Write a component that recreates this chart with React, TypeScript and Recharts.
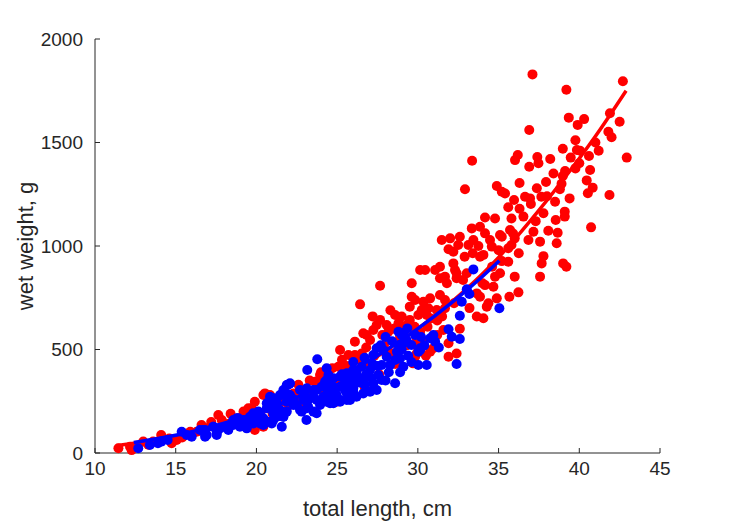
import { ScatterChart, Scatter, XAxis, YAxis } from 'recharts';

// red group: total length (cm) and wet weight (g)
const redLength = [
  37.1, 42.7, 39.2, 41.9, 42.5, 39.35, 39.9, 40.3, 36.9, 41.8, 42.0, 39.76, 38.98, 39.85, 40.05, 41.2, 42.94, 37.4, 36.9, 38.2,
  39.47, 40.6, 37.47, 39.76, 40.67, 39.12, 38.98, 40.46, 37.94, 38.9, 36.3, 38.8, 40.83, 37.37, 40.53, 41.87, 36.64, 36.95, 37.65, 38.5,
  37.0, 37.78, 39.1, 39.1, 38.54, 36.54, 40.73, 38.08, 38.66, 37.16, 36.85, 37.57, 38.6,
  33.36, 36.19, 36.02, 32.92, 34.89, 35.2, 35.4, 35.96, 35.6, 34.16, 34.78, 35.8, 33.34, 33.85, 34.16, 35.09, 35.2, 35.71, 36.0,
  31.48, 32.6, 33.44, 34.47, 34.58, 31.9, 32.2, 33.13, 33.75, 35.6, 35.8, 32.9, 33.85, 34.06, 32.2, 31.37, 35.2, 35.6, 36.25, 37.78,
  37.67, 39.0, 39.2, 37.57, 36.0, 34.78, 35.09, 32.4, 31.68, 34.16, 34.68, 33.65, 33.85, 36.23, 35.67, 34.37, 34.27,
  27.66, 26.42, 29.62, 30.14, 32.0, 32.5, 33.4, 30.45, 31.07, 31.37, 31.8, 32.3, 32.4, 32.8, 33.03, 29.62, 29.83, 30.34, 30.76, 31.37,
  31.68, 29.5, 30.24, 30.65, 31.17, 31.68, 32.24, 28.59, 29.0, 30.03, 30.55, 34.89, 33.65, 34.06, 27.66, 27.24, 26.62, 26.1, 25.18, 25.7,
  29.3, 29.5, 31.58, 31.9, 30.34, 30.76, 30.96, 29.83, 31.9, 32.4,
  27.45, 28.07, 28.17, 28.8, 29.1, 26.83, 27.04, 26.1, 26.52, 25.07, 25.38, 23.94, 23.63, 23.94, 20.53, 20.84, 19.9, 19.7, 22.3, 22.8,
  29.7, 29.93, 29.93, 30.14, 24.97, 24.77, 20.43, 20.12, 26.62,
  11.45, 12.17, 12.27, 12.99, 13.6, 14.1, 14.75, 15.06, 15.9, 16.3, 16.6, 17.64, 17.85, 18.57, 18.88, 19.5, 20.43, 19.9, 20.33, 21.77,
  22.0, 22.6, 23.2, 24.2, 25.0, 25.6, 26.2, 26.9, 27.3, 27.9, 28.4, 28.9, 29.3, 30.6, 31.2, 32.6, 33.2, 34.0, 34.6, 35.0,
  35.9, 36.3, 37.3, 38.0, 38.4, 39.4, 40.0, 41.0, 16.9, 18.2, 21.2, 13.3, 15.4,
  21.5, 22.6, 23.3, 24.0, 24.7, 25.6, 26.4, 27.8, 28.5, 29.8, 26.8, 25.3, 27.2, 28.3, 30.8, 31.5, 23.0, 24.3, 26.7, 27.6,
  28.6, 29.9, 30.5, 31.2, 17.2, 18.4, 19.2, 21.0, 14.6, 16.0, 12.6,
];
const redWeight = [
  1829, 1796, 1755, 1641, 1600, 1620, 1585, 1613, 1560, 1552, 1525, 1511, 1470, 1464, 1460, 1460, 1427, 1430, 1383, 1420,
  1427, 1435, 1400, 1375, 1367, 1362, 1338, 1317, 1309, 1301, 1304, 1274, 1282, 1279, 1255, 1246, 1238, 1230, 1238, 1214,
  1203, 1158, 1166, 1142, 1126, 1142, 1090, 1074, 1064, 1069, 1029, 1021, 1013,
  1412, 1440, 1415, 1274, 1290, 1262, 1254, 1222, 1187, 1138, 1133, 1133, 1085, 1093, 1061, 1053, 1045, 1077, 1037,
  1029, 1045, 1029, 1029, 997, 984, 972, 1005, 1000, 989, 1005, 948, 948, 957, 916, 900, 927, 924, 965, 951,
  916, 916, 900, 852, 852, 852, 868, 868, 852, 811, 803, 771, 755, 776, 755, 723, 707,
  808, 718, 820, 884, 1037, 1005, 965, 884, 884, 844, 820, 884, 844, 836, 868, 755, 739, 731, 747, 763,
  739, 707, 691, 699, 691, 699, 723, 667, 659, 667, 667, 747, 659, 651, 643, 594, 578, 538, 498, 473,
  618, 643, 594, 530, 538, 489, 506, 465, 465, 481,
  618, 618, 586, 627, 610, 570, 546, 473, 481, 417, 385, 377, 344, 337, 288, 280, 248, 216, 288, 296,
  433, 481, 554, 586, 248, 256, 127, 151, 353,
  23, 30, 14, 55, 55, 87, 47, 63, 103, 103, 135, 184, 159, 159, 168, 216, 280, 111, 151, 288,
  230, 250, 270, 300, 330, 350, 400, 430, 470, 520, 480, 560, 520, 610, 640, 600, 700, 820, 900, 980,
  1060, 1180, 1120, 1240, 1350, 1230, 1400, 1500, 120, 140, 200, 40, 75,
  260, 330, 350, 390, 410, 420, 450, 570, 600, 610, 510, 450, 660, 690, 650, 660, 240, 290, 320, 380,
  430, 520, 470, 570, 150, 190, 200, 190, 70, 90, 35,
];

// blue group
const blueLength = [
  33.44, 33.03, 33.19, 32.72, 35.05, 32.6, 31.9, 32.1, 32.6, 30.96, 30.76, 31.07, 30.14, 30.03, 29.35, 28.8, 29.0, 32.4, 30.03, 30.55,
  23.77, 23.15, 24.35, 24.46, 22.04, 21.67, 21.98, 20.84, 21.26, 18.88, 19.4, 19.9, 20.64, 21.05, 21.46, 22.5, 22.8, 23.2, 23.53, 23.0,
  23.53, 24.56, 24.77, 25.18, 24.56, 24.04, 24.25, 23.73, 25.6, 25.8, 25.49, 26.0, 26.2, 26.52, 26.62, 27.04, 27.14, 27.55, 27.24, 27.45,
  27.86, 28.07, 27.76, 28.28, 28.59, 28.9, 29.1, 28.7, 29.1, 28.59, 27.76, 27.24, 26.73, 29.83, 30.14, 29.1, 29.3, 29.6,
  18.57, 18.98, 19.6, 20.43, 21.05, 20.12, 21.57, 23.1, 23.73, 24.56, 25.18, 25.6, 26.2, 26.62, 27.04, 27.45,
  12.68, 13.4, 13.9, 14.1, 14.5, 15.37, 15.68, 15.99, 16.7, 16.8, 17.33, 17.54, 18.05, 18.26, 18.57, 19.09, 19.4, 19.8, 20.22, 20.64,
  21.15, 20.95, 21.67, 21.88, 21.57,
  22.3, 22.9, 24.0, 24.9, 25.3, 26.0, 26.4, 27.5, 28.2, 28.8, 25.9, 26.8,
  21.91, 22.08, 21.46, 21.05, 21.15, 19.8, 19.6, 19.2, 18.78, 18.47, 18.16, 17.74, 17.33, 16.82, 16.92, 17.54,
  22.7, 23.12, 23.53, 22.9, 23.32, 23.73, 22.7, 23.12, 22.29, 21.88, 22.08, 21.88, 21.67, 21.26, 20.84, 20.22, 20.02, 20.43,
  24.35, 24.77, 25.18, 25.6, 26.0, 24.35, 24.77, 25.38, 25.8, 26.2, 24.15, 24.56, 24.97, 25.6, 26.0, 24.35, 23.94, 24.77, 25.18, 25.8,
  16.5, 16.82, 28.0, 28.4, 27.7, 29.4, 28.9, 28.0, 27.2, 26.7, 29.6, 30.4, 30.2, 31.3, 29.0,
];
const blueWeight = [
  887, 791, 768, 731, 699, 663, 598, 562, 551, 570, 554, 538, 506, 489, 602, 586, 570, 430, 425, 425,
  453, 401, 409, 377, 333, 304, 280, 272, 248, 168, 159, 175, 216, 192, 208, 232, 200, 224, 200, 264,
  272, 272, 296, 320, 328, 320, 344, 304, 344, 369, 304, 312, 385, 417, 361, 401, 361, 377, 473, 506,
  498, 465, 425, 425, 449, 457, 417, 489, 530, 337, 353, 337, 328, 570, 498, 580, 546, 522,
  159, 127, 143, 135, 159, 200, 127, 159, 192, 240, 256, 256, 272, 288, 296, 304,
  23, 39, 47, 55, 63, 103, 87, 79, 111, 95, 127, 95, 127, 111, 135, 151, 119, 143, 192, 240,
  232, 143, 175, 328, 280,
  260, 300, 250, 280, 380, 440, 340, 420, 390, 520, 300, 380,
  328, 337, 280, 264, 232, 192, 175, 159, 168, 143, 127, 119, 127, 111, 87, 87,
  304, 313, 304, 256, 264, 256, 208, 216, 232, 248, 280, 200, 175, 175, 151, 143, 159, 168,
  353, 361, 369, 385, 401, 312, 320, 328, 337, 353, 272, 280, 280, 288, 296, 248, 232, 240, 248, 256,
  111, 79, 560, 540, 520, 470, 390, 350, 430, 460, 440, 520, 560, 510, 500,
];

// fitted curves
const redFitLength = [11.3, 13, 15, 17, 19, 21, 23, 25, 27, 29, 31, 33, 35, 37, 39, 41, 42.9];
const redFitWeight = [35, 53, 80, 116, 160, 213, 278, 353, 442, 545, 660, 792, 945, 1125, 1320, 1530, 1750];
const blueFitLength = [12.4, 14, 16, 18, 20, 22, 24, 26, 28, 30, 32, 34, 35.05];
const blueFitWeight = [51, 71, 103, 144, 193, 252, 322, 403, 495, 601, 720, 853, 929];

const xTicks = [10, 15, 20, 25, 30, 35, 40, 45];
const yTicks = [0, 500, 1000, 1500, 2000];

const zip = (xs: number[], ys: number[]) => xs.map((x, i) => ({ x, y: ys[i] }));

const FONT = '"Liberation Sans", Arial, sans-serif';
const AXIS = '#262626';

const dot = (color: string) => (p: any) => <circle cx={p.cx} cy={p.cy} r={5} fill={color} />;
const noDot = () => <g />;

export default function App() {
  return (
    <div style={{ position: 'absolute', left: 0, top: 0, width: 729, height: 521, background: '#fff' }}>
      <ScatterChart width={729} height={521} margin={{ top: 39, right: 69, bottom: 0, left: 0 }}>
        <XAxis
          type="number"
          dataKey="x"
          domain={[10, 45]}
          ticks={xTicks}
          height={68}
          tickSize={-5}
          tickMargin={14}
          stroke={AXIS}
          tick={{ fill: AXIS, fontSize: 19, fontFamily: FONT }}
          label={() => (
            <text x={377.5} y={516} textAnchor="middle" fill={AXIS} fontSize={22} fontFamily={FONT}>
              total length, cm
            </text>
          )}
        />
        <YAxis
          type="number"
          dataKey="y"
          domain={[0, 2000]}
          ticks={yTicks}
          width={95}
          tickSize={-5}
          tickMargin={17}
          stroke={AXIS}
          tick={{ fill: AXIS, fontSize: 19, fontFamily: FONT }}
          label={() => (
            <text x={33} y={246} transform="rotate(-90 33 246)" textAnchor="middle" fill={AXIS} fontSize={22} fontFamily={FONT}>
              wet weight, g
            </text>
          )}
        />
        <Scatter data={zip(redLength, redWeight)} shape={dot('#ff0000')} isAnimationActive={false} />
        <Scatter
          data={zip(redFitLength, redFitWeight)}
          line={{ stroke: '#ff0000', strokeWidth: 3.5 }}
          lineJointType="monotoneX"
          shape={noDot}
          isAnimationActive={false}
        />
        <Scatter data={zip(blueLength, blueWeight)} shape={dot('#0000ff')} isAnimationActive={false} />
        <Scatter
          data={zip(blueFitLength, blueFitWeight)}
          line={{ stroke: '#0000ff', strokeWidth: 3.5 }}
          lineJointType="monotoneX"
          shape={noDot}
          isAnimationActive={false}
        />
      </ScatterChart>
    </div>
  );
}
